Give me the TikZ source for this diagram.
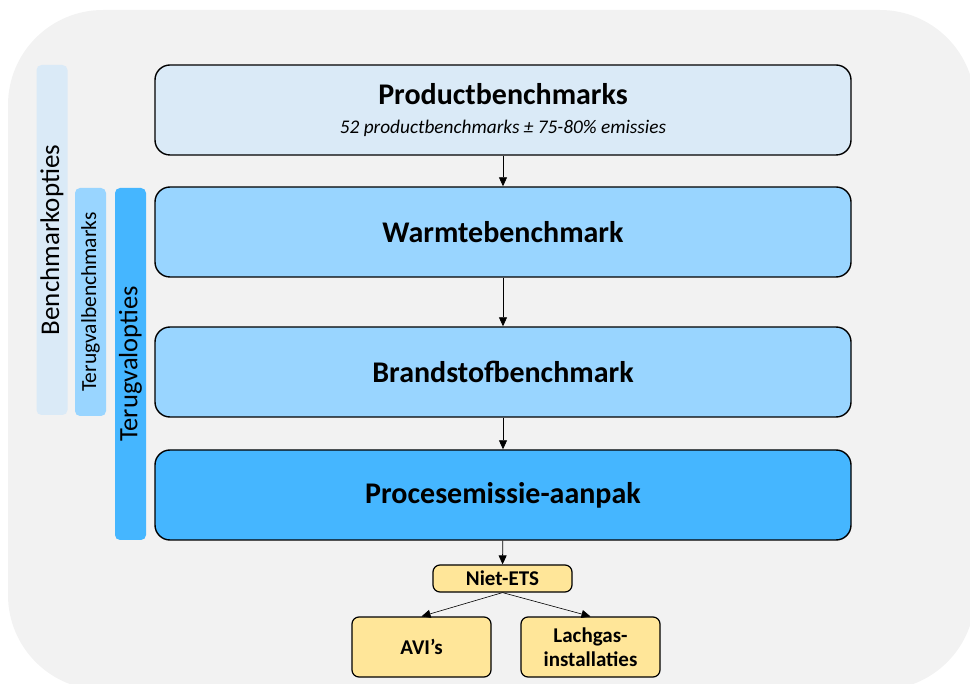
\documentclass[tikz,border=0pt]{standalone}
\usepackage{fontspec}
\setmainfont{Carlito}
\usetikzlibrary{arrows.meta}

\definecolor{bglight}{HTML}{F2F2F2}
\definecolor{bluepale}{HTML}{DAEAF7}
\definecolor{bluemid}{HTML}{99D5FF}
\definecolor{bluedark}{HTML}{45B6FF}
\definecolor{yellowbox}{HTML}{FFE699}

\tikzset{
  stage/.style={draw=black, line width=1.4pt, rounded corners=15pt,
    minimum width=696pt, minimum height=90pt, align=center, inner sep=0pt},
  stagetitle/.style={font=\fontsize{30}{34}\selectfont\bfseries},
  sidebar/.style={rotate=90, rounded corners=5pt, inner sep=0pt,
    minimum height=31pt},
  smallbox/.style={draw=black, line width=1.2pt, rounded corners=7pt,
    fill=yellowbox, minimum width=139pt, align=center, inner sep=0pt,
    font=\fontsize{21}{24}\selectfont\bfseries},
  flow/.style={-{Triangle[length=9pt,width=8pt]}, line width=0.8pt},
  branch/.style={-{Triangle[length=9pt,width=8pt]}, line width=0.6pt}
}

\begin{document}
\begin{tikzpicture}[x=1pt,y=-1pt]
  \useasboundingbox (0,0) rectangle (970,684);

  % Background panel
  \fill[bglight, rounded corners=95pt] (8,10) rectangle (975,690);

  % Side bars
  \node[sidebar, fill=bluepale, minimum width=350pt,
    font=\fontsize{27}{30}\selectfont] (benchopt) at (52,240) {Benchmarkopties};
  \node[sidebar, fill=bluemid, minimum width=228pt,
    font=\fontsize{21.5}{24}\selectfont] (tvbench) at (90.5,302) {Terugvalbenchmarks};
  \node[sidebar, fill=bluedark, minimum width=352pt,
    font=\fontsize{26.5}{30}\selectfont] (tvopt) at (130.5,364) {Terugvalopties};

  % Main stages
  \node[stage, fill=bluepale, font=\fontsize{19.3}{29}\selectfont] (product) at (503,110)
    {{\fontsize{30}{34}\selectfont\bfseries Productbenchmarks}\\
     {\itshape 52 productbenchmarks ± 75-80\% emissies}};
  \node[stage, stagetitle, fill=bluemid] (warmte) at (503,232) {Warmtebenchmark};
  \node[stage, stagetitle, fill=bluemid] (brandstof) at (503,372) {Brandstofbenchmark};
  \node[stage, stagetitle, fill=bluedark] (proces) at (503,495) {Procesemissie-aanpak};

  % Niet-ETS
  \node[smallbox, minimum height=27pt] (nietets) at (502.5,578.5) {Niet-ETS};
  \node[smallbox, minimum height=60pt] (avi) at (421.5,647) {AVI's};
  \node[smallbox, minimum height=60pt] (lachgas) at (590.5,647)
    {Lachgas-\\installaties};

  % Arrows
  \draw[flow] (product) -- (warmte);
  \draw[flow] (warmte) -- (brandstof);
  \draw[flow] (brandstof) -- (proces);
  \draw[flow] (proces) -- (nietets);
  \draw[branch] (nietets.south) -- (avi.north);
  \draw[branch] (nietets.south) -- (lachgas.north);
\end{tikzpicture}
\end{document}
